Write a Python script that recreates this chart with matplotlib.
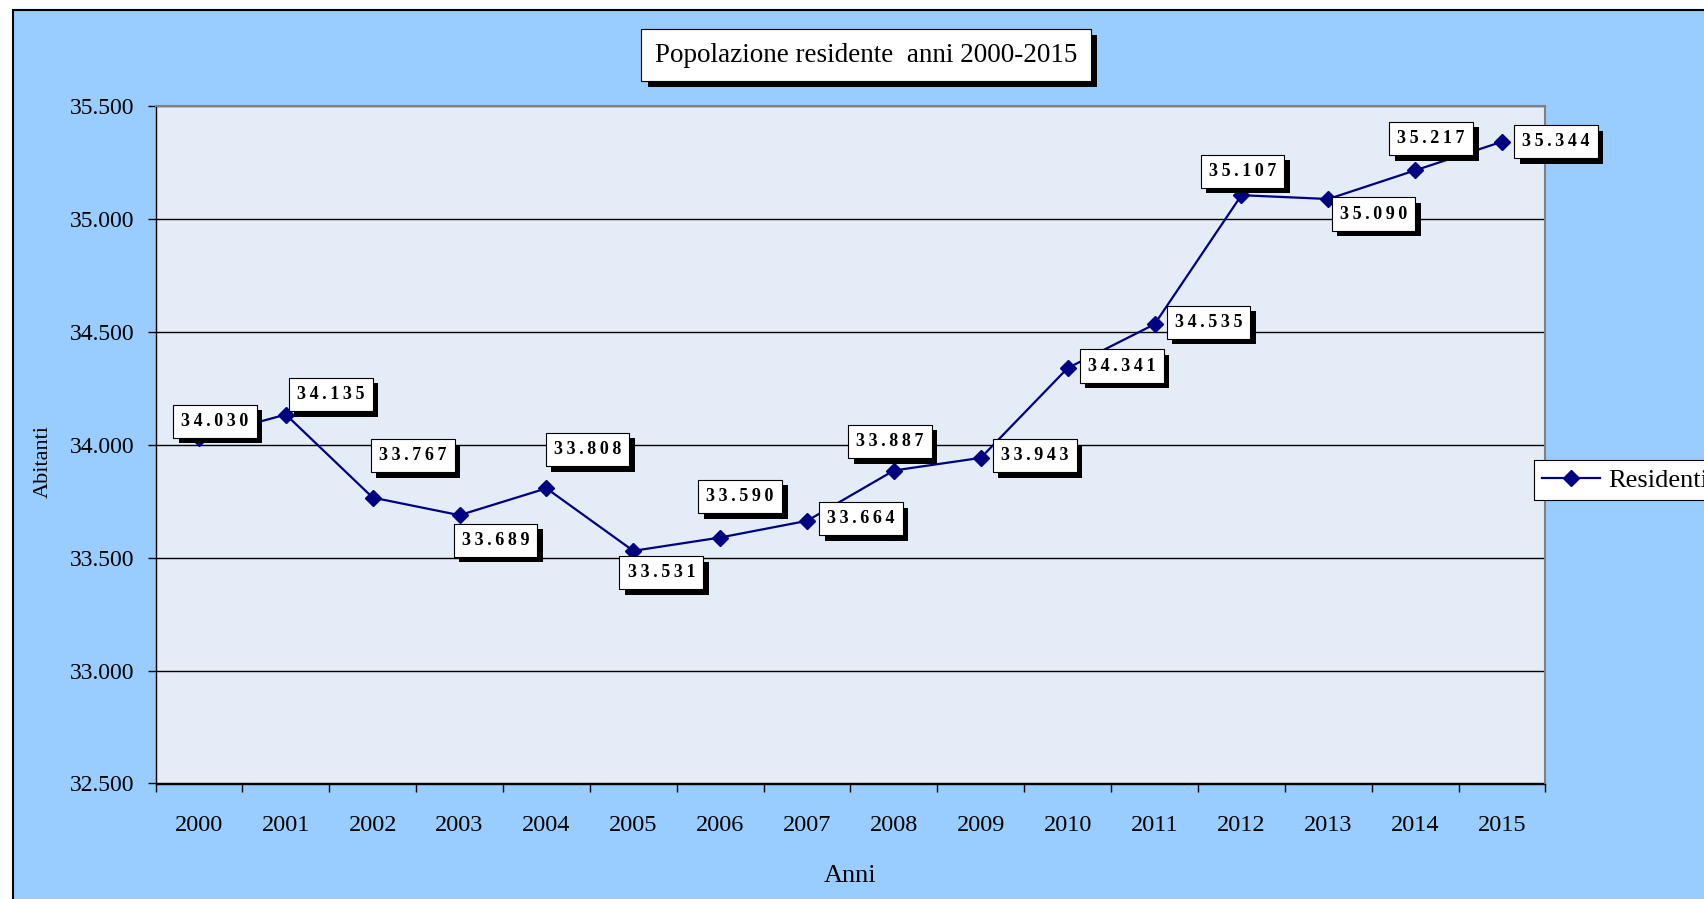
import matplotlib.pyplot as plt
import matplotlib.patheffects as pe
from matplotlib.patches import Rectangle
from matplotlib.ticker import FuncFormatter, FixedLocator

years = ["2000", "2001", "2002", "2003", "2004", "2005", "2006", "2007",
         "2008", "2009", "2010", "2011", "2012", "2013", "2014", "2015"]
residenti = [34030, 34135, 33767, 33689, 33808, 33531, 33590, 33664,
             33887, 33943, 34341, 34535, 35107, 35090, 35217, 35344]

# label offsets (pixels) from each point, as placed in the original
label_offsets = [(16, 17), (45, 20), (40, 42), (36, -25), (41, 39), (28, -22),
                 (20, 41), (54, 2), (-4, 29), (54, 2), (54, 2), (54, 2),
                 (1, 24), (45, -15), (16, 32), (54, 0)]

W, H = 1704, 899
fig = plt.figure(figsize=(W / 100, H / 100), dpi=100)
fig.patch.set_facecolor("white")

# blue chart area with black frame, running past right/bottom edges
fig.patches.append(Rectangle((12.5 / W, -0.05), 1.1, 1 - 9.5 / H + 0.05,
                             transform=fig.transFigure, facecolor="#99CCFF",
                             edgecolor="black", lw=1.5, zorder=-1))

ax = fig.add_axes([155.5 / W, 115.5 / H, 1390 / W, 677 / H])
ax.set_zorder(1)
ax.set_facecolor("#E3ECF7")

x = list(range(len(years)))
ax.plot(x, residenti, color="#000080", lw=1.6, marker="D", ms=8.5,
        label="Residenti", zorder=3)

serif = "Liberation Serif"
for xi, v, (dx, dy) in zip(x, residenti, label_offsets):
    s = f"{v:,}".replace(",", ".")
    s = "\u2009".join(s)
    t = ax.annotate(s, (xi, v), xytext=(dx, dy), textcoords="offset pixels",
                    ha="center", va="center", fontsize=13, fontweight="bold",
                    family=serif, zorder=5,
                    bbox=dict(boxstyle="square,pad=0.45", fc="white",
                              ec="black", lw=0.8))
    t.get_bbox_patch().set_path_effects(
        [pe.withSimplePatchShadow(offset=(4, -4), shadow_rgbFace="black", alpha=1)])

ax.set_xlim(-0.5, len(years) - 0.5)
ax.set_ylim(32500, 35500)
ax.set_yticks(range(32500, 35501, 500))
ax.yaxis.set_major_formatter(FuncFormatter(lambda v, p: f"{int(v):,}".replace(",", ".")))
ax.grid(axis="y", color="black", lw=1)
ax.set_axisbelow(True)

ax.xaxis.set_major_locator(FixedLocator([i - 0.5 for i in range(len(years) + 1)]))
ax.xaxis.set_major_formatter(FuncFormatter(lambda v, p: ""))
ax.xaxis.set_minor_locator(FixedLocator(x))
ax.set_xticklabels(years, minor=True)
ax.tick_params(axis="x", which="major", direction="out", length=6, width=1)
ax.tick_params(axis="x", which="minor", length=0, pad=23, labelsize=17.5)
ax.tick_params(axis="y", direction="out", length=6, width=1, pad=9, labelsize=17)
for lab in ax.get_xticklabels(minor=True) + ax.get_yticklabels():
    lab.set_family(serif)

for side in ["left", "bottom"]:
    ax.spines[side].set_color("black")
    ax.spines[side].set_linewidth(1)
for side in ["top", "right"]:
    ax.spines[side].set_color("#808080")
    ax.spines[side].set_linewidth(1.5)

fig.text(43 / W, 1 - 462 / H, "Abitanti", rotation=90, ha="center", va="center",
         fontsize=16, family=serif)
fig.text(850 / W, 1 - 876 / H, "Anni", ha="center", va="center",
         fontsize=19, family=serif)

title = fig.text(866 / W, 1 - 55 / H, "Popolazione residente  anni 2000-2015",
                 ha="center", va="center", fontsize=19.5, family=serif,
                 bbox=dict(boxstyle="square,pad=0.5", fc="white", ec="black", lw=0.8))
title.get_bbox_patch().set_path_effects(
    [pe.withSimplePatchShadow(offset=(4.5, -4.5), shadow_rgbFace="black", alpha=1)])

leg = ax.legend(loc="center left", bbox_to_anchor=(1534 / W, 1 - 480 / H),
                bbox_transform=fig.transFigure, fancybox=False, framealpha=1,
                edgecolor="black", prop={"family": serif, "size": 19},
                handlelength=2.2, handletextpad=0.3, borderaxespad=0,
                borderpad=0.3)
leg.get_frame().set_linewidth(0.8)

fig.savefig("out.png", dpi=100)
